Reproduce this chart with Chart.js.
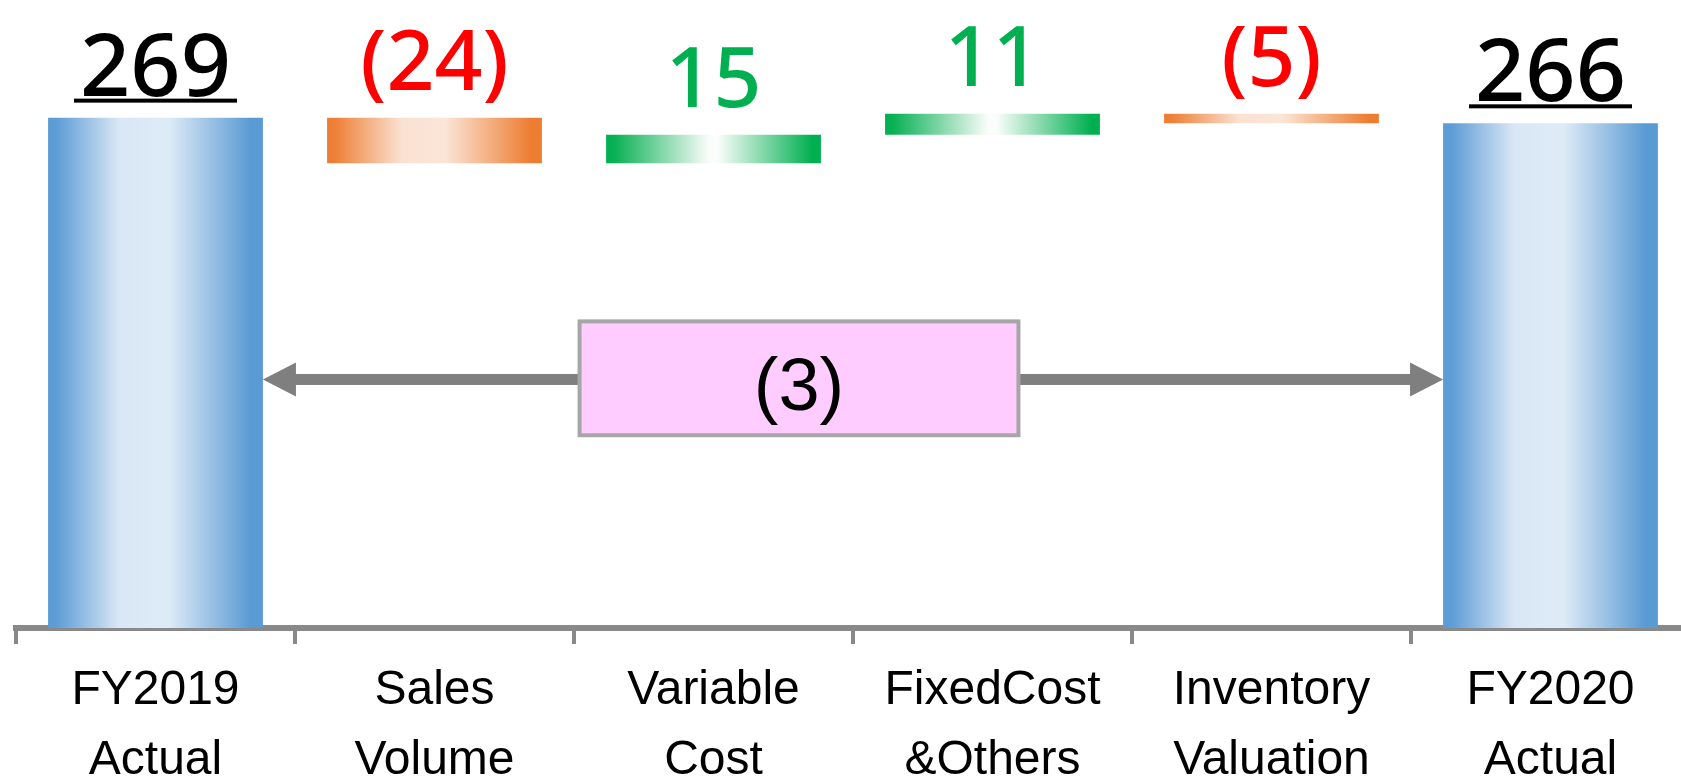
<!DOCTYPE html>
<html>
<head>
<meta charset="utf-8">
<script src="https://cdn.jsdelivr.net/npm/chart.js@4.4.1/dist/chart.umd.min.js"></script>
<style>
	html, body { margin: 0; padding: 0; background: #fff; overflow: hidden; }
	#wrap { position: absolute; left: 0; top: 0; width: 1692px; height: 808px; }
</style>
</head>
<body>
<div id="wrap"><canvas id="chart-bridge"></canvas></div>
<script>
const categories = [['FY2019', 'Actual'], ['Sales', 'Volume'], ['Variable', 'Cost'], ['FixedCost', '&Others'], ['Inventory', 'Valuation'], ['FY2020', 'Actual']]
const values = [269, -24, 15, 11, -5, 266]
const isTotal = [true, false, false, false, false, true]
const valueLabels = ['269', '(24)', '15', '11', '(5)', '266']
const changeLabel = '(3)'

// floating ranges for the waterfall
let ranges = [], running = 0
for (let i = 0; i < values.length; i++) {
	if (isTotal[i]) {
		ranges.push([0, values[i]])
		running = values[i]
	} else {
		ranges.push([running, running + values[i]])
		running += values[i]
	}
}

const stops = {
	blue: [[0, '#5B9BD5'], [0.04, '#5E9DD6'], [0.33, '#D9E6F5'], [0.56, '#DEEBF7'], [0.94, '#5B9BD5'], [1, '#5B9BD5']],
	orange: [[0, '#ED7D31'], [0.04, '#EE8138'], [0.35, '#FAE2D3'], [0.55, '#FBE5D6'], [0.95, '#ED7D31'], [1, '#ED7D31']],
	green: [[0, '#00B050'], [0.04, '#0BB155'], [0.48, '#FAFDFB'], [0.52, '#FAFDFB'], [0.96, '#00B050'], [1, '#00B050']]
}

function barFill(ctx) {
	const chart = ctx.chart
	if (!chart.chartArea) return '#5B9BD5'
	const x = chart.scales.x
	const cx = x.getPixelForValue(ctx.dataIndex)
	const w = x.width / categories.length * 0.77
	const i = ctx.dataIndex
	const set = isTotal[i] ? stops.blue : (values[i] < 0 ? stops.orange : stops.green)
	const g = chart.ctx.createLinearGradient(cx - w / 2, 0, cx + w / 2, 0)
	set.forEach(s => g.addColorStop(s[0], s[1]))
	return g
}

const bridgeLabels = {
	id: 'bridgeLabels',
	afterDatasetsDraw(chart) {
		const c = chart.ctx
		const bars = chart.getDatasetMeta(0).data
		const x = chart.scales.x
		const y = chart.scales.y

		// double arrow between the two totals
		const first = bars[0], last = bars[bars.length - 1]
		const ax1 = first.x + first.width / 2
		const ax2 = last.x - last.width / 2
		const ay = y.getPixelForValue(131)
		c.save()
		c.fillStyle = '#7F7F7F'
		c.fillRect(ax1 + 30, ay - 5.5, ax2 - ax1 - 60, 11)
		c.beginPath()
		c.moveTo(ax1, ay)
		c.lineTo(ax1 + 33, ay - 17)
		c.lineTo(ax1 + 33, ay + 17)
		c.closePath()
		c.fill()
		c.beginPath()
		c.moveTo(ax2, ay)
		c.lineTo(ax2 - 33, ay - 17)
		c.lineTo(ax2 - 33, ay + 17)
		c.closePath()
		c.fill()

		// box with the total change
		const bx1 = x.getPixelForValue(1.52)
		const bx2 = x.getPixelForValue(3.093)
		const by1 = y.getPixelForValue(161.6)
		const by2 = y.getPixelForValue(101.6)
		c.fillStyle = '#FFCCFF'
		c.fillRect(bx1, by1, bx2 - bx1, by2 - by1)
		c.strokeStyle = '#A6A6A6'
		c.lineWidth = 4
		c.strokeRect(bx1, by1, bx2 - bx1, by2 - by1)
		c.fillStyle = '#000'
		c.font = '74px "Liberation Sans"'
		c.textAlign = 'center'
		c.textBaseline = 'alphabetic'
		c.fillText(changeLabel, (bx1 + bx2) / 2, by2 - 25)

		// value labels above each bar
		bars.forEach((bar, i) => {
			const top = Math.min(bar.y, bar.base)
			if (isTotal[i]) {
				c.font = '500 88px "Noto Sans"'
				c.fillStyle = '#000'
				const base = top - 22
				c.fillText(valueLabels[i], bar.x, base)
				const tw = c.measureText(valueLabels[i]).width + 12
				c.fillRect(bar.x - tw / 2, base + 3, tw, 4)
			} else {
				c.font = '500 84px "Noto Sans"'
				c.fillStyle = values[i] < 0 ? '#FF0000' : '#00B050'
				c.fillText(valueLabels[i], bar.x, top - 28)
			}
		})
		c.restore()
	}
}

const mainchart = document.getElementById('chart-bridge')
let chart = new Chart(mainchart, {
	type: 'bar',
	data: {
		labels: categories,
		datasets: [{
			data: ranges,
			backgroundColor: barFill,
			borderWidth: 0,
			barPercentage: 0.77,
			categoryPercentage: 1
		}]
	},
	options: {
		responsive: true,
		maintainAspectRatio: false,
		animation: false,
		events: [],
		layout: {
			padding: { left: 16, right: 2, top: 0, bottom: 0 }
		},
		scales: {
			x: {
				z: 1,
				offset: true,
				border: {
					display: true,
					color: '#898989',
					width: 6
				},
				grid: {
					display: true,
					drawOnChartArea: false,
					drawTicks: true,
					tickLength: 16,
					color: '#898989',
					lineWidth: 4
				},
				ticks: {
					color: '#000',
					padding: 12,
					maxRotation: 0,
					autoSkip: false,
					font: {
						family: '"Liberation Sans"',
						size: 48,
						lineHeight: '70px'
					}
				}
			},
			y: {
				display: false,
				min: 0,
				max: 331
			}
		},
		plugins: {
			legend: { display: false },
			tooltip: { enabled: false }
		}
	},
	plugins: [bridgeLabels]
})
</script>
</body>
</html>
